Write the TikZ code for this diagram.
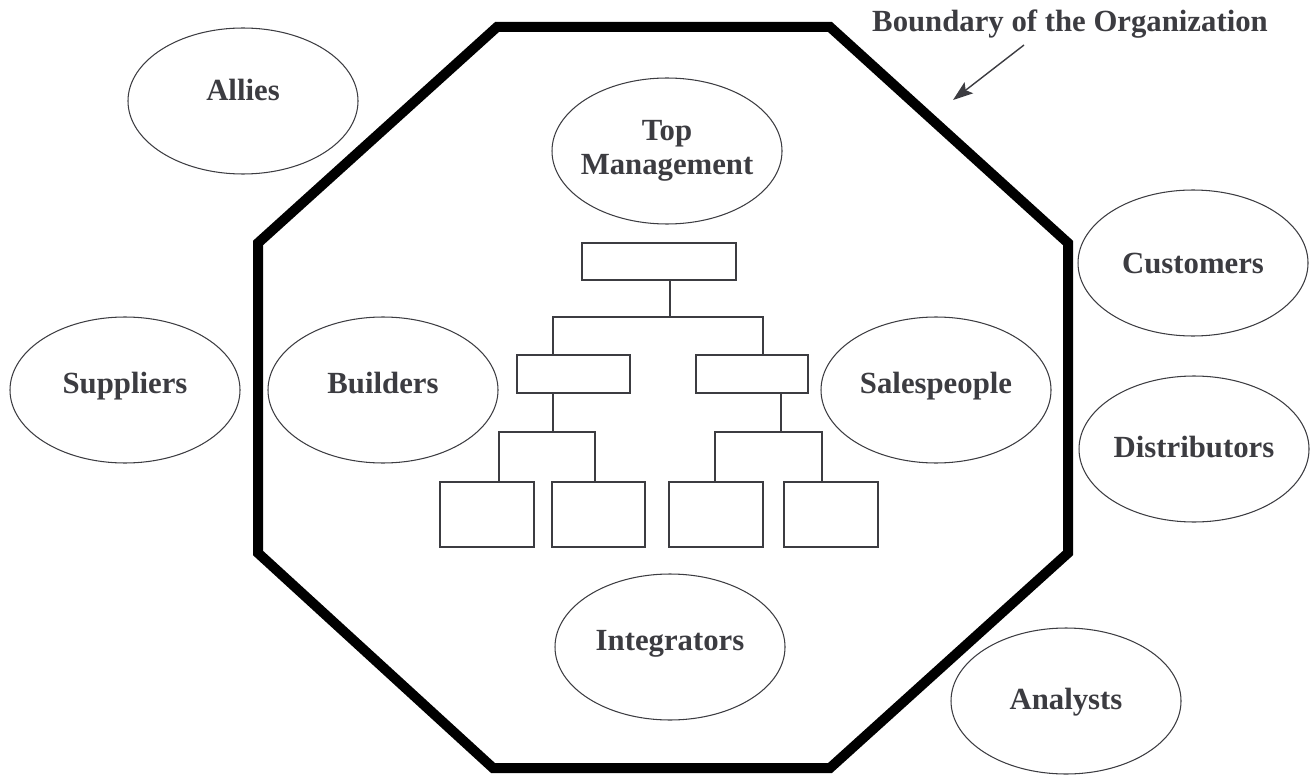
\documentclass[tikz,border=0pt]{standalone}
\usepackage{fontspec}
\setmainfont{Liberation Serif}
\usetikzlibrary{shapes.geometric,arrows.meta}
\definecolor{ink}{HTML}{3C3C41}

\begin{document}
\begin{tikzpicture}[
	party/.style={ellipse, draw=ink, line width=0.6pt, minimum width=4.6cm, minimum height=2.92cm, inner sep=0pt, text=ink, align=center},
	lift/.style={text height=0.5cm, text depth=#1},
	lift/.default=0.37cm,
	unit/.style={draw=ink, line width=0.8pt, inner sep=0pt},
	link/.style={draw=ink, line width=0.8pt},
	font=\bfseries\fontsize{17.5}{19}\selectfont]
	\useasboundingbox (0,0) rectangle (26.22,15.52);
	% the organization
	\draw [line width=0.2cm, line join=miter] (9.94,14.98) -- (16.60,14.98) -- (21.36,10.66) -- (21.36,4.46)
		-- (16.60,0.16) -- (9.86,0.16) -- (5.16,4.46) -- (5.16,10.66) -- cycle;
	\node[anchor=base, text=ink] (boundary) at (21.40,14.88) {Boundary of the Organization};
	\coordinate (bt) at (20.48,14.62);
	\coordinate (bh) at (19.06,13.52);
	\draw [ink, line width=0.8pt, -{Stealth[length=4mm, width=2.8mm, inset=0.8mm]}] (bt) -- (bh);
	% groups inside and outside
	\node[party, lift=0.53cm] (allies) at (4.86,13.50) {Allies};
	\node[party, inner xsep=-0.2cm] (topmgmt) at (13.34,12.50) {Top\\Management};
	\node[party, lift=0.09cm] (customers) at (23.86,10.26) {Customers};
	\node[party, lift] (suppliers) at (2.50,7.72) {Suppliers};
	\node[party, lift] (builders) at (7.66,7.72) {Builders};
	\node[party, lift] (sales) at (18.72,7.72) {Salespeople};
	\node[party, lift=0.17cm] (distributors) at (23.88,6.54) {Distributors};
	\node[party, lift] (integrators) at (13.40,2.58) {Integrators};
	\node[party, lift=0.15cm] (analysts) at (21.32,1.50) {Analysts};
	% org chart
	\node[unit, minimum width=3.08cm, minimum height=0.74cm] (chief) at (13.18,10.29) {};
	\node[unit, minimum width=2.26cm, minimum height=0.76cm] (midl) at (11.47,8.04) {};
	\node[unit, minimum width=2.24cm, minimum height=0.76cm] (midr) at (15.04,8.04) {};
	\node[unit, minimum width=1.88cm, minimum height=1.30cm] (low1) at (9.74,5.23) {};
	\node[unit, minimum width=1.86cm, minimum height=1.30cm] (low2) at (11.97,5.23) {};
	\node[unit, minimum width=1.88cm, minimum height=1.30cm] (low3) at (14.32,5.23) {};
	\node[unit, minimum width=1.88cm, minimum height=1.30cm] (low4) at (16.62,5.23) {};
	\coordinate (j0) at (13.40,9.18);
	\coordinate (jl) at (11.06,9.18);
	\coordinate (jr) at (15.26,9.18);
	\coordinate (kl) at (11.06,6.88);
	\coordinate (kr) at (15.62,6.88);
	\coordinate (k1) at (9.98,6.88);
	\coordinate (k2) at (11.90,6.88);
	\coordinate (k3) at (14.30,6.88);
	\coordinate (k4) at (16.44,6.88);
	\draw [link] (j0 |- chief.south) -- (j0);
	\draw [link] (jl |- midl.north) -- (jl) -- (jr) -- (jr |- midr.north);
	\draw [link] (kl |- midl.south) -- (kl);
	\draw [link] (k1 |- low1.north) -- (k1) -- (k2) -- (k2 |- low2.north);
	\draw [link] (kr |- midr.south) -- (kr);
	\draw [link] (k3 |- low3.north) -- (k3) -- (k4) -- (k4 |- low4.north);
\end{tikzpicture}
\end{document}
